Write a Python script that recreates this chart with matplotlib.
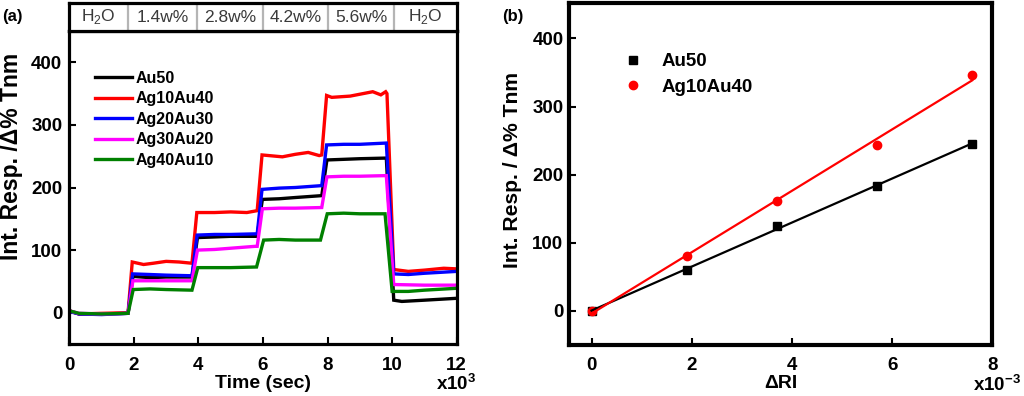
import numpy as np
import matplotlib
matplotlib.use("Agg")
import matplotlib.pyplot as plt

plt.rcParams['font.family'] = ['Liberation Sans', 'DejaVu Sans']
plt.rcParams['mathtext.fontset'] = 'custom'
plt.rcParams['mathtext.rm'] = 'Liberation Sans'
plt.rcParams['mathtext.bf'] = 'Liberation Sans:bold'

# ---------------- Panel (a) data: time (x10^3 s), response ----------------
series_names = ['Au50', 'Ag10Au40', 'Ag20Au30', 'Ag30Au20', 'Ag40Au10']
series_colors = ['#000000', '#ff0000', '#0000ff', '#ff00ff', '#008000']

t_au50 = [0, 0.3, 1.0, 1.82, 1.97, 2.5, 3.0, 3.8, 3.97, 4.5, 5.0, 5.82, 5.98, 6.5, 7.0, 7.82, 7.98, 8.5, 9.0, 9.82, 10.05, 10.3, 11.0, 12.0]
v_au50 = [3, -2, -2, -1, 58, 56, 57, 57, 120, 121, 122, 122, 181, 182, 184, 187, 244, 245, 246, 247, 20, 18, 20, 23]

t_ag10 = [0, 0.3, 1.0, 1.82, 1.95, 2.3, 2.6, 3.0, 3.4, 3.8, 3.95, 4.5, 5.0, 5.5, 5.82, 5.97, 6.6, 7.0, 7.4, 7.74, 7.82, 7.97, 8.13, 8.7, 9.2, 9.4, 9.65, 9.8, 9.84, 10.05, 10.5, 11.0, 11.6, 12.0]
v_ag10 = [3, -2, -1, 0, 81, 77, 79, 82, 81, 79, 160, 160, 161, 160, 163, 252, 249, 253, 256, 251, 252, 347, 344, 346, 351, 353, 348, 353, 350, 69, 66, 68, 71, 70]

t_ag20 = [0, 0.3, 1.0, 1.82, 1.96, 2.5, 3.0, 3.8, 3.96, 4.5, 5.0, 5.82, 5.97, 6.5, 7.0, 7.82, 7.97, 8.5, 9.0, 9.82, 10.05, 10.5, 11.0, 12.0]
v_ag20 = [2, -2, -3, -1, 62, 61, 60, 59, 124, 125, 125, 126, 197, 199, 200, 203, 268, 269, 269, 271, 62, 61, 63, 66]

t_ag30 = [0, 0.3, 1.0, 1.82, 1.97, 3.0, 3.8, 3.97, 4.5, 5.0, 5.75, 5.82, 5.98, 6.5, 7.0, 7.82, 7.98, 8.5, 9.0, 9.82, 10.05, 11.0, 12.0]
v_ag30 = [3, -1, -2, -1, 51, 51, 51, 100, 101, 103, 106, 106, 166, 167, 167, 168, 217, 218, 218, 219, 45, 44, 44]

t_ag40 = [0, 0.3, 1.0, 1.82, 1.98, 2.5, 3.0, 3.8, 3.98, 4.5, 5.0, 5.8, 6.02, 6.5, 7.0, 7.78, 7.99, 8.5, 9.0, 9.78, 10.0, 10.5, 11.0, 12.0]
v_ag40 = [3, -1, -2, -1, 37, 38, 37, 36, 72, 72, 72, 73, 116, 117, 116, 116, 158, 159, 158, 158, 34, 34, 36, 39]

header_labels = ['H$_\\mathregular{2}$O', '1.4w%', '2.8w%', '4.2w%', '5.6w%', 'H$_\\mathregular{2}$O']
header_edges = [0, 1.83, 3.95, 5.99, 8.02, 10.07, 12]

# ---------------- Panel (b) data ----------------
dri = [0, 1.9, 3.7, 5.7, 7.6]          # x10^-3
resp_au50 = [0, 60, 124, 184, 245]
resp_ag10 = [0, 81, 161, 243, 347]

fig = plt.figure(figsize=(10.24, 3.96), dpi=100)

# ---------- Panel (a) ----------
axa = fig.add_axes([69.3/1024, 1-344/396, 387.4/1024, 313/396])
ts = [t_au50, t_ag10, t_ag20, t_ag30, t_ag40]
vs = [v_au50, v_ag10, v_ag20, v_ag30, v_ag40]
for t, v, c, n in zip(ts, vs, series_colors, series_names):
    axa.plot(t, v, color=c, lw=2.4, label=n, solid_joinstyle='miter')
axa.set_xlim(0, 12)
axa.set_ylim(-50, 450)
axa.set_xticks([0, 2, 4, 6, 8, 10, 12])
axa.set_yticks([0, 100, 200, 300, 400])
axa.tick_params(direction='in', length=5, width=1.5, labelsize=13.5)
axa.tick_params(axis='x', pad=9)
axa.tick_params(axis='y', pad=5)
for lab in axa.get_xticklabels() + axa.get_yticklabels():
    lab.set_fontweight('bold')
for s in axa.spines.values():
    s.set_linewidth(2.3)
axa.set_xlabel('Time (sec)', fontsize=14, fontweight='bold', labelpad=1)
fig.text(12/1024, 1-156/396, 'Int. Resp. /\u0394% Tnm', rotation=90, ha='center', va='center',
         fontsize=16.5, fontweight='bold')
fig.text(456/1024, 1-384/396, 'x10$^\\mathbf{3}$', ha='center', va='center', fontsize=13.5, fontweight='bold')
fig.text(12/1024, 1-17/396, '(a)', ha='center', va='center', fontsize=12, fontweight='bold')
leg = axa.legend(loc='upper left', bbox_to_anchor=((95-69.3)/387.4, (344-71)/313), frameon=False,
                 borderpad=0, borderaxespad=0, handlelength=2.3, handletextpad=0.25,
                 labelspacing=0.34, prop={'size': 11.5, 'weight': 'bold'})

# header band
axh = fig.add_axes([69.3/1024, 1-344/396 + 313/396, 387.4/1024, 28/396])
axh.set_xlim(0, 12)
axh.set_ylim(0, 1)
axh.set_xticks([]); axh.set_yticks([])
for s in axh.spines.values():
    s.set_linewidth(2.3)
for e in header_edges[1:-1]:
    axh.axvline(e, color='#b5b5b5', lw=1.6)
for i, lab in enumerate(header_labels):
    axh.text((header_edges[i] + header_edges[i+1]) / 2, 0.5, lab, ha='center', va='center',
             fontsize=12.5, color='#3a3a3a')

# ---------- Panel (b) ----------
axb = fig.add_axes([569/1024, 1-345/396, 423.3/1024, 342/396])
axb.plot(dri, resp_au50, 's', color='black', ms=5.5, label='Au50')
axb.plot(dri, resp_ag10, 'o', color='red', ms=6, label='Ag10Au40')
xfit = np.array([dri[0], dri[-1]])
for y, c in [(resp_au50, 'black'), (resp_ag10, 'red')]:
    p = np.polyfit(dri, y, 1)
    axb.plot(xfit, np.polyval(p, xfit), color=c, lw=1.6)
axb.set_xlim(-0.45, 8.0)
axb.set_ylim(-50, 452)
axb.set_xticks([0, 2, 4, 6, 8])
axb.set_yticks([0, 100, 200, 300, 400])
axb.tick_params(direction='in', length=5, width=1.5, labelsize=13.5)
axb.tick_params(axis='x', pad=9)
axb.tick_params(axis='y', pad=4)
for lab in axb.get_xticklabels() + axb.get_yticklabels():
    lab.set_fontweight('bold')
for s in axb.spines.values():
    s.set_linewidth(3.0)
axb.set_xlabel('\u0394RI', fontsize=14, fontweight='bold', labelpad=0)
fig.text(512/1024, 1-170/396, 'Int. Resp. / \u0394% Tnm', rotation=90, ha='center', va='center',
         fontsize=15.2, fontweight='bold')
fig.text(997/1024, 1-385/396, 'x10$^\\mathbf{-3}$', ha='center', va='center', fontsize=13.5, fontweight='bold')
fig.text(513/1024, 1-17/396, '(b)', ha='center', va='center', fontsize=12, fontweight='bold')
axb.legend(loc='upper left', bbox_to_anchor=((624-569)/423.3, (345-53)/342), frameon=False,
           borderpad=0, borderaxespad=0, handlelength=1.0, handletextpad=1.0,
           labelspacing=0.45, prop={'size': 13.5, 'weight': 'bold'})

fig.savefig('out.png', dpi=100)
